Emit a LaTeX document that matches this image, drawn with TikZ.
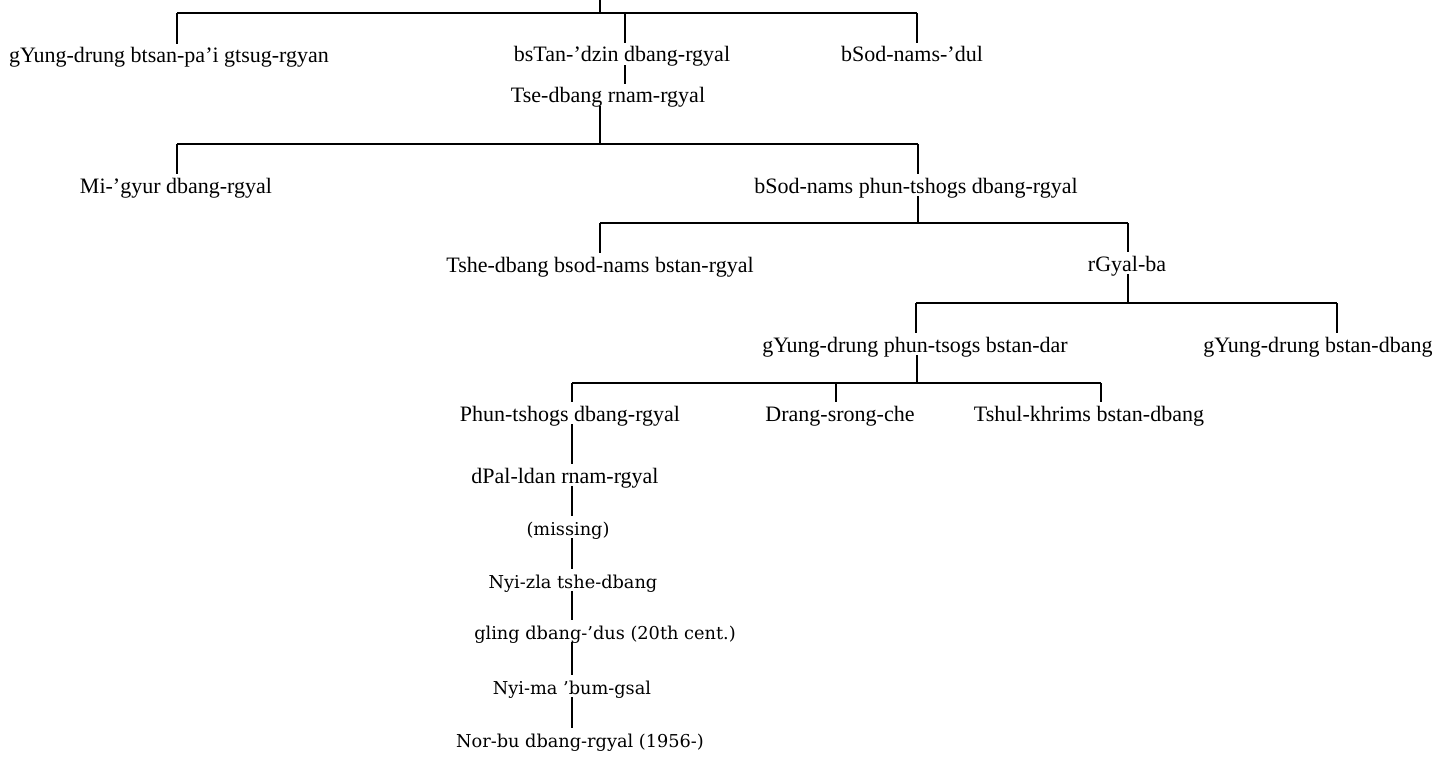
\documentclass[tikz,border=0pt]{standalone}
\usepackage{fontspec}
\setmainfont{Liberation Serif}[Ligatures=TeX]
\newfontfamily\lowfont{DejaVu Serif}[Ligatures=TeX]
\begin{document}
\begin{tikzpicture}[x=0.75pt,y=-0.75pt,
  every node/.style={inner sep=0pt, outer sep=2.5pt, text height=12pt, text depth=0pt, anchor=base},
  lbl/.style={font=\fontsize{16.5}{18}\selectfont},
  lowlbl/.style={font=\lowfont\fontsize{13.3}{16}\selectfont},
  conn/.style={line width=1.4pt, line cap=butt}]
\useasboundingbox (0,0) rectangle (1448,763);
% junction coordinates
\coordinate (top) at (600,0);
\coordinate (j1) at (600,13);
\coordinate (b1L) at (177,13);
\coordinate (b1M) at (625,13);
\coordinate (b1R) at (917,13);
\coordinate (b2L) at (177,144);
\coordinate (b2M) at (600,144);
\coordinate (b2R) at (918,144);
\coordinate (b3L) at (600,223);
\coordinate (b3M) at (918,223);
\coordinate (b3R) at (1128,223);
\coordinate (b4L) at (916,303);
\coordinate (b4M) at (1128,303);
\coordinate (b4R) at (1337,303);
\coordinate (b5L) at (572,383);
\coordinate (b5J) at (917,383);
\coordinate (b5M) at (836,383);
\coordinate (b5R) at (1101,383);
% nodes
\node[lbl] (gy1) at (169,63) {gYung-drung btsan-pa’i gtsug-rgyan};
\node[lbl] (bstan) at (622,62) {bsTan-’dzin dbang-rgyal};
\node[lbl] (bsod1) at (912,62) {bSod-nams-’dul};
\node[lbl] (tse) at (608,103) {Tse-dbang rnam-rgyal};
\node[lbl] (migyur) at (176,193) {Mi-’gyur dbang-rgyal};
\node[lbl] (bsodp) at (916,193) {bSod-nams phun-tshogs dbang-rgyal};
\node[lbl] (tshe) at (600,272) {Tshe-dbang bsod-nams bstan-rgyal};
\node[lbl] (rgyal) at (1127,271) {rGyal-ba};
\node[lbl] (gyp) at (915,352) {gYung-drung phun-tsogs bstan-dar};
\node[lbl] (gyb) at (1318,352) {gYung-drung bstan-dbang};
\node[lbl] (phun) at (570,421) {Phun-tshogs dbang-rgyal};
\node[lbl] (drang) at (840,421) {Drang-srong-che};
\node[lbl] (tshul) at (1089,421) {Tshul-khrims bstan-dbang};
\node[lbl] (dpal) at (565,483) {dPal-ldan rnam-rgyal};
\node[lowlbl] (miss) at (568,535) {(missing)};
\node[lowlbl] (nyiz) at (573,588) {Nyi-zla tshe-dbang};
\node[lowlbl] (gling) at (605,639) {gling dbang-’dus (20th cent.)};
\node[lowlbl] (nyim) at (572,694) {Nyi-ma ’bum-gsal};
\node[lowlbl] (norbu) at (580,747) {Nor-bu dbang-rgyal (1956-)};
% connectors
\draw[conn] (top) -- (j1);
\draw[conn] (b1L) -- (b1R);
\draw[conn] (b1L) -- (b1L |- gy1.north);
\draw[conn] (b1M) -- (b1M |- bstan.north);
\draw[conn] (b1R) -- (b1R |- bsod1.north);
\draw[conn] (bstan.south -| b1M) -- (tse.north -| b1M);
\draw[conn] (tse.south -| b2M) -- (b2M);
\draw[conn] (b2L) -- (b2R);
\draw[conn] (b2L) -- (b2L |- migyur.north);
\draw[conn] (b2R) -- (b2R |- bsodp.north);
\draw[conn] (bsodp.south -| b3M) -- (b3M);
\draw[conn] (b3L) -- (b3R);
\draw[conn] (b3L) -- (b3L |- tshe.north);
\draw[conn] (b3R) -- (b3R |- rgyal.north);
\draw[conn] (rgyal.south -| b4M) -- (b4M);
\draw[conn] (b4L) -- (b4R);
\draw[conn] (b4L) -- (b4L |- gyp.north);
\draw[conn] (b4R) -- (b4R |- gyb.north);
\draw[conn] (gyp.south -| b5J) -- (b5J);
\draw[conn] (b5L) -- (b5R);
\draw[conn] (b5L) -- (b5L |- phun.north);
\draw[conn] (b5M) -- (b5M |- drang.north);
\draw[conn] (b5R) -- (b5R |- tshul.north);
\draw[conn] (phun.south -| b5L) -- (dpal.north -| b5L);
\draw[conn] (dpal.south -| b5L) -- (miss.north -| b5L);
\draw[conn] (miss.south -| b5L) -- (nyiz.north -| b5L);
\draw[conn] (nyiz.south -| b5L) -- (gling.north -| b5L);
\draw[conn] (gling.south -| b5L) -- (nyim.north -| b5L);
\draw[conn] (nyim.south -| b5L) -- (norbu.north -| b5L);
\end{tikzpicture}
\end{document}
